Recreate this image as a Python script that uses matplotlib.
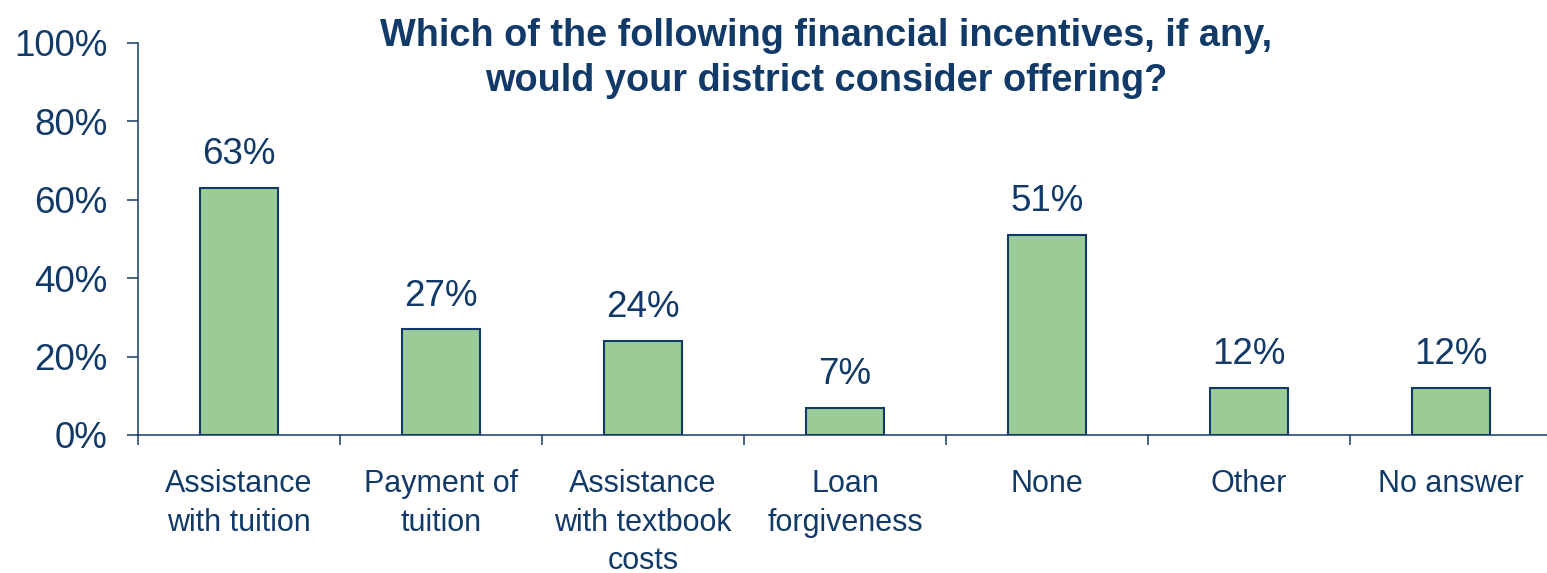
import matplotlib
matplotlib.use("Agg")
import matplotlib.pyplot as plt
from matplotlib.ticker import FixedLocator, PercentFormatter

categories = ["Assistance\nwith tuition", "Payment of\ntuition",
              "Assistance\nwith textbook\ncosts", "Loan\nforgiveness",
              "None", "Other", "No answer"]
values = [63, 27, 24, 7, 51, 12, 12]
y_ticks = [0, 20, 40, 60, 80, 100]
title = "Which of the following financial incentives, if any,\nwould your district consider offering?"

NAVY = "#123A68"
GREEN = "#9BCC98"

plt.rcParams["font.family"] = ["Liberation Sans", "DejaVu Sans"]

fig = plt.figure(figsize=(15.47, 5.73), dpi=100)
ax = fig.add_axes([138 / 1547, 1 - 435 / 573, 1 - 138 / 1547, (435 - 43) / 573])

x = list(range(len(categories)))
ax.bar(x, values, width=0.39, color=GREEN, edgecolor=NAVY, linewidth=1.5, zorder=3)

for xi, v in zip(x, values):
    ax.annotate(f"{v}%", (xi, v), xytext=(0, 17), textcoords="offset points",
                ha="center", va="baseline", fontsize=26.5, color=NAVY)

ax.set_xlim(-0.5, 6.475)
ax.set_ylim(0, 100)
ax.set_yticks(y_ticks)
ax.yaxis.set_major_formatter(PercentFormatter(decimals=0))
ax.tick_params(axis="y", direction="out", length=8, width=1.1, color=NAVY,
               labelsize=26.5, labelcolor=NAVY, pad=14)

ax.set_xticks(x)
ax.set_xticklabels(categories, color=NAVY, fontsize=22, linespacing=1.37, va="top")
ax.tick_params(axis="x", which="major", length=0, pad=24.5)
ax.xaxis.set_minor_locator(FixedLocator([i - 0.5 for i in range(len(categories) + 1)]))
ax.tick_params(axis="x", which="minor", direction="out", length=7, width=1.1, color=NAVY)

for side in ("top", "right"):
    ax.spines[side].set_visible(False)
for side in ("left", "bottom"):
    ax.spines[side].set_color(NAVY)
    ax.spines[side].set_linewidth(1.1)

fig.text(826 / 1547, 1 - 91 / 573, title, ha="center", va="baseline",
         fontsize=27.3, fontweight="bold", color=NAVY, linespacing=1.33)

fig.savefig("out.png", dpi=100)
